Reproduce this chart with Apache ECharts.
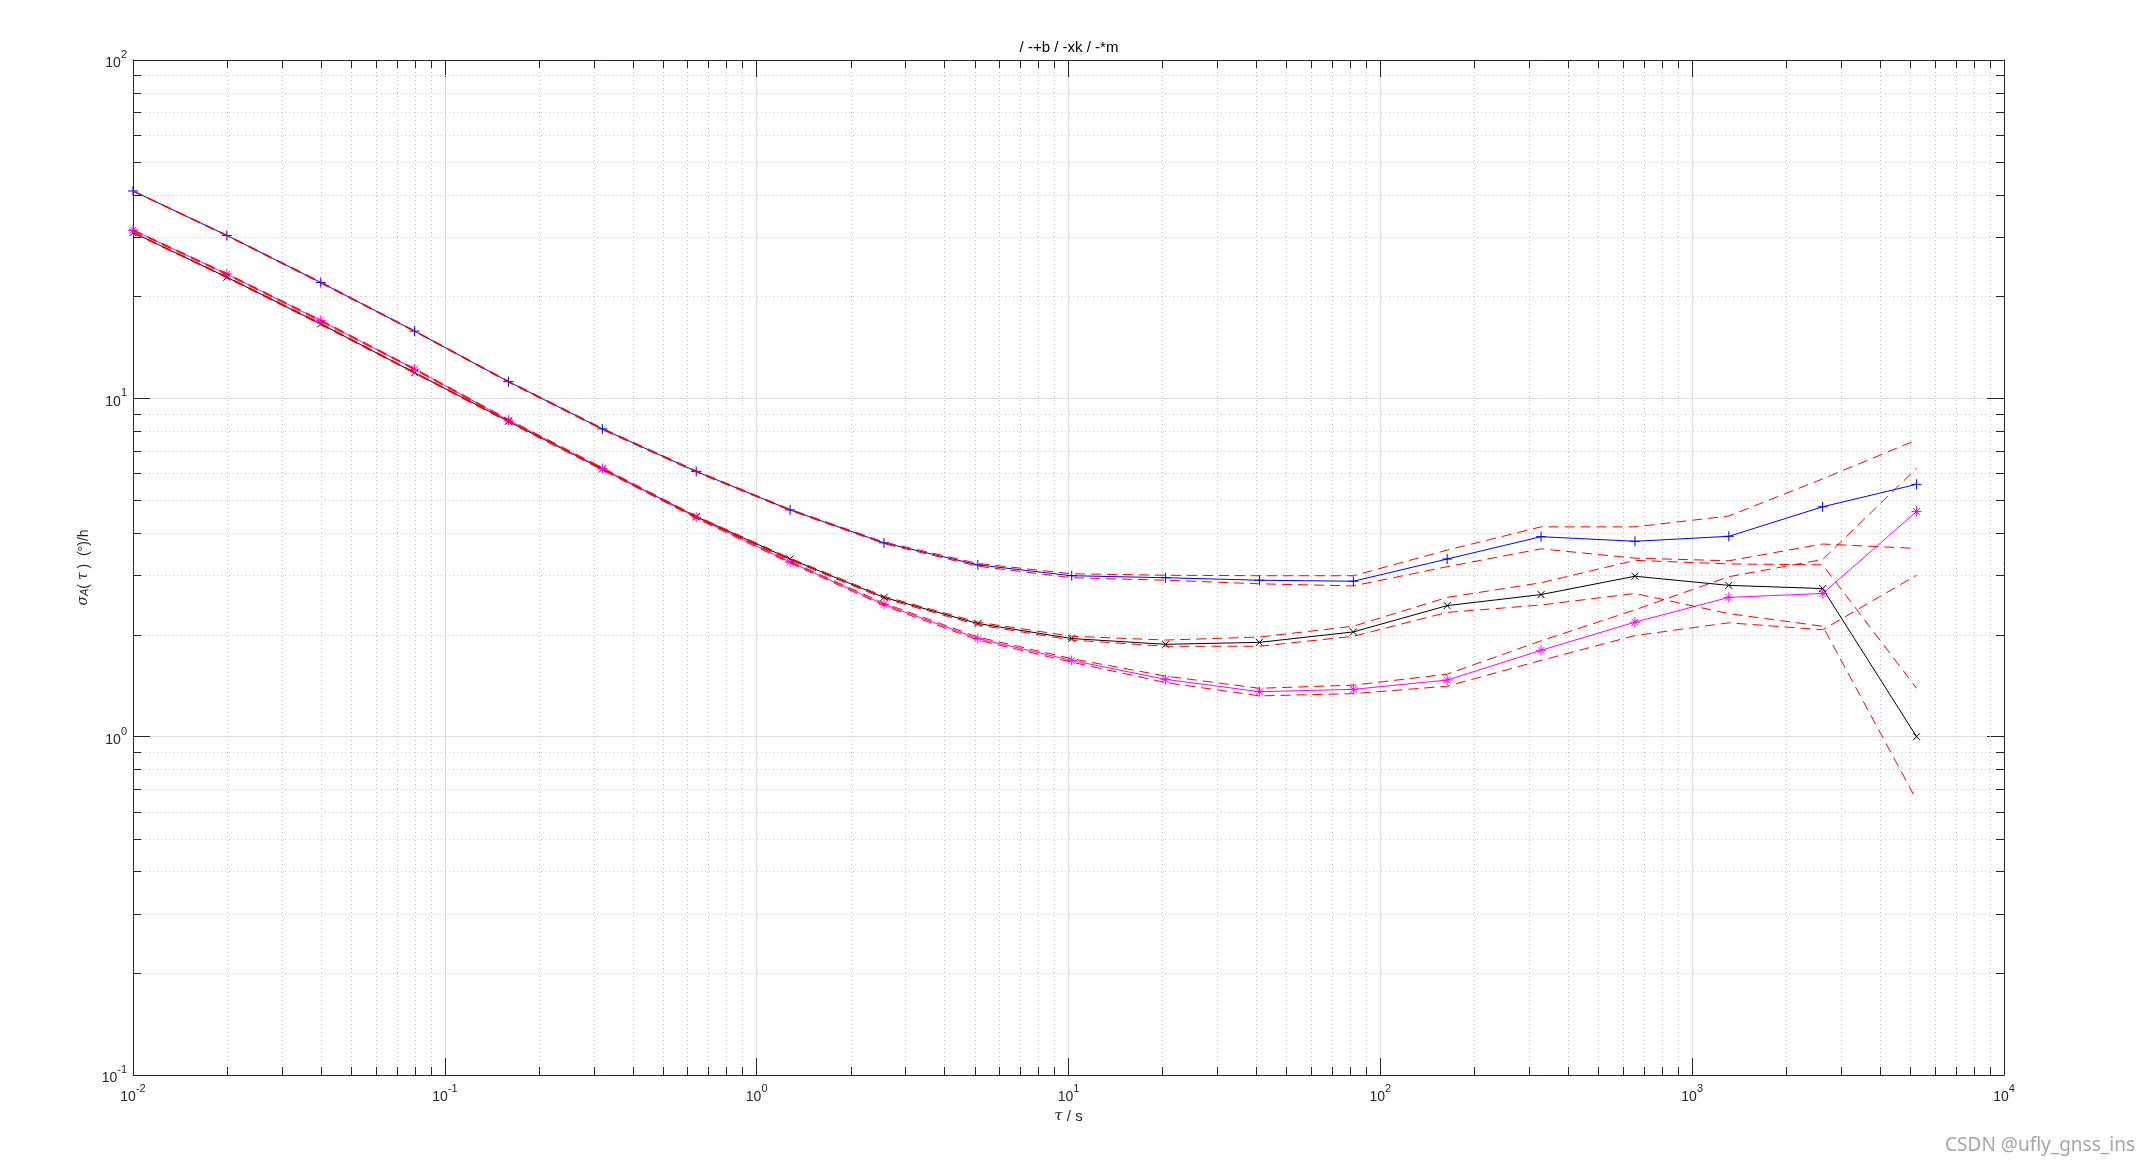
<!DOCTYPE html>
<html>
<head>
<meta charset="utf-8">
<script src="https://cdn.jsdelivr.net/npm/echarts@6/dist/echarts.min.js"></script>
<style>
html,body{margin:0;padding:0;background:#fff;}
#chart{width:2150px;height:1167px;}
</style>
</head>
<body>
<div id="chart"></div>
<script>
// ---- data ----
var tau = [0.01, 0.02, 0.04, 0.08, 0.16, 0.32, 0.64, 1.28, 2.56, 5.12, 10.24, 20.48, 40.96, 81.92, 163.84, 327.68, 655.36, 1310.72, 2621.44, 5242.88];

var blueVals    = [41.0, 30.3, 22.0, 15.8, 11.2, 8.12, 6.08, 4.68, 3.74, 3.22, 2.99, 2.95, 2.90, 2.88, 3.35, 3.90, 3.78, 3.91, 4.78, 5.57];
var blueUpper   = [41.1, 30.4, 22.1, 15.85, 11.25, 8.16, 6.11, 4.70, 3.76, 3.25, 3.03, 3.00, 2.99, 2.99, 3.56, 4.17, 4.17, 4.49, 5.78, 7.53];
var blueLower   = [40.9, 30.2, 21.9, 15.75, 11.15, 8.08, 6.05, 4.66, 3.72, 3.19, 2.95, 2.90, 2.83, 2.79, 3.18, 3.59, 3.37, 3.31, 3.71, 3.60];

var blackVals   = [30.9, 22.8, 16.6, 11.9, 8.55, 6.18, 4.47, 3.35, 2.58, 2.16, 1.95, 1.875, 1.90, 2.04, 2.44, 2.63, 2.98, 2.80, 2.74, 1.0];
var blackUpper  = [31.0, 22.9, 16.7, 11.95, 8.58, 6.21, 4.49, 3.37, 2.60, 2.18, 1.98, 1.93, 1.97, 2.12, 2.58, 2.85, 3.32, 3.24, 3.22, 1.39];
var blackLower  = [30.8, 22.7, 16.5, 11.85, 8.50, 6.14, 4.44, 3.33, 2.56, 2.14, 1.93, 1.85, 1.85, 1.98, 2.33, 2.45, 2.65, 2.31, 2.12, 0.65];

var magentaVals  = [31.4, 23.3, 16.96, 12.2, 8.62, 6.20, 4.45, 3.28, 2.46, 1.95, 1.68, 1.477, 1.358, 1.38, 1.47, 1.80, 2.18, 2.58, 2.65, 4.63];
var magentaUpper = [31.5, 23.4, 17.05, 12.25, 8.66, 6.24, 4.48, 3.30, 2.48, 1.97, 1.70, 1.51, 1.39, 1.42, 1.53, 1.92, 2.37, 2.97, 3.34, 6.21];
var magentaLower = [31.3, 23.2, 16.9, 12.15, 8.58, 6.17, 4.42, 3.26, 2.44, 1.93, 1.66, 1.445, 1.32, 1.34, 1.41, 1.68, 1.99, 2.17, 2.07, 3.00];

var titleText = '/ -+b / -xk / -*m';
var xDecades = [-2, -1, 0, 1, 2, 3];
var yDecades = [-1, 0, 1];

// ---- helpers ----
var FONT = 'Liberation Sans, Arial, sans-serif';
var AXC = '#262626';
function pairs(ys){ return tau.map(function(t,i){ return [t, ys[i]]; }); }
function supLabel(v){ var e = Math.round(Math.log10(v)); return '{b|10}{s|' + e + '}'; }
var labelRich = {
  b: {fontSize: 14, lineHeight: 21, color: AXC, fontFamily: FONT, verticalAlign: 'bottom'},
  s: {fontSize: 11, lineHeight: 12, color: AXC, fontFamily: FONT, verticalAlign: 'top'}
};

// minor tick / minor grid values (2..9 within every decade)
var minorItems = [];
xDecades.forEach(function(d){ for (var k = 2; k <= 9; k++) minorItems.push([k*Math.pow(10,d), 1, 0]); });
yDecades.forEach(function(d){ for (var k = 2; k <= 9; k++) minorItems.push([1, k*Math.pow(10,d), 1]); });

var PLUS = 'path://M5,0L5,10M0,5L10,5';
var CROSS = 'path://M0,0L10,10M0,10L10,0';
var STAR = 'path://M5,0L5,10M0,5L10,5M1.6,1.6L8.4,8.4M1.6,8.4L8.4,1.6';

function mainSeries(name, ys, color, symbol, size){
  return {
    name: name, type: 'line', data: pairs(ys), xAxisIndex: 0, yAxisIndex: 0,
    symbol: symbol, symbolSize: size, showAllSymbol: true, z: 3,
    lineStyle: {color: color, width: 1},
    itemStyle: {color: color, borderColor: color, borderWidth: 1},
    emphasis: {disabled: true}, silent: true
  };
}
function boundSeries(ys){
  return {
    type: 'line', data: pairs(ys), xAxisIndex: 0, yAxisIndex: 0,
    symbol: 'none', z: 4,
    lineStyle: {color: '#ff0000', width: 1, type: [10, 6]},
    emphasis: {disabled: true}, silent: true
  };
}

var chart = echarts.init(document.getElementById('chart'), null, {renderer: 'canvas'});
var gridCfg = {left: 133, right: 146, top: 60, bottom: 92};

var option = {
  animation: false,
  backgroundColor: '#ffffff',
  textStyle: {fontFamily: FONT},
  grid: gridCfg,
  xAxis: [{
    type: 'log', logBase: 10, min: 0.01, max: 10000, splitNumber: 6, position: 'bottom',
    axisLine: {show: true, onZero: false, lineStyle: {color: AXC, width: 1}},
    axisTick: {show: true, inside: true, length: 17, lineStyle: {color: AXC, width: 1}},
    axisLabel: {show: true, margin: 8, formatter: supLabel, rich: labelRich, showMinLabel: true, showMaxLabel: true},
    splitLine: {show: true, lineStyle: {color: '#dedede', width: 1}},
    name: '{i|τ}{n| / s}', nameLocation: 'middle', nameGap: 32,
    nameTextStyle: {rich: {i: {fontSize: 15, fontStyle: 'italic', fontFamily: 'DejaVu Serif, serif', color: AXC}, n: {fontSize: 15, color: AXC, fontFamily: FONT}}}
  }, {
    type: 'log', logBase: 10, min: 0.01, max: 10000, splitNumber: 6, position: 'top',
    axisLine: {show: true, onZero: false, lineStyle: {color: AXC, width: 1}},
    axisTick: {show: true, inside: true, length: 17, lineStyle: {color: AXC, width: 1}},
    axisLabel: {show: false}, splitLine: {show: false}
  }],
  yAxis: [{
    type: 'log', logBase: 10, min: 0.1, max: 100, splitNumber: 3, position: 'left',
    axisLine: {show: true, onZero: false, lineStyle: {color: AXC, width: 1}},
    axisTick: {show: true, inside: true, length: 17, lineStyle: {color: AXC, width: 1}},
    axisLabel: {show: true, margin: 6, formatter: supLabel, rich: labelRich, showMinLabel: true, showMaxLabel: true},
    splitLine: {show: true, lineStyle: {color: '#dedede', width: 1}},
    name: '{i|σ}{sub|A}{n|( }{i|τ}{n| )  (°)/h}', nameLocation: 'middle', nameGap: 40, nameRotate: 90,
    nameTextStyle: {rich: {
      i: {fontSize: 14, fontStyle: 'italic', fontFamily: 'DejaVu Serif, serif', color: AXC},
      sub: {fontSize: 11, fontStyle: 'italic', color: AXC, fontFamily: FONT, verticalAlign: 'bottom', lineHeight: 10, padding: [6, 0, 0, 0]},
      n: {fontSize: 14, color: AXC, fontFamily: FONT}
    }}
  }, {
    type: 'log', logBase: 10, min: 0.1, max: 100, splitNumber: 3, position: 'right',
    axisLine: {show: true, onZero: false, lineStyle: {color: AXC, width: 1}},
    axisTick: {show: true, inside: true, length: 17, lineStyle: {color: AXC, width: 1}},
    axisLabel: {show: false}, splitLine: {show: false}
  }],
  series: [
    {
      type: 'custom', xAxisIndex: 0, yAxisIndex: 0, z: 1, silent: true,
      data: minorItems,
      renderItem: function(params, api){
        var cs = params.coordSys;
        var kind = api.value(2);
        var ch = [];
        var gridStyle = {stroke: '#c4c4c4', lineWidth: 1, lineDash: [1, 3]};
        var tickStyle = {stroke: AXC, lineWidth: 1};
        if (kind === 0) {
          var px = Math.round(api.coord([api.value(0), 1])[0]) + 0.5;
          var yb = cs.y + cs.height, yt = cs.y;
          ch.push({type: 'line', shape: {x1: px, y1: yt, x2: px, y2: yb}, style: gridStyle});
          ch.push({type: 'line', shape: {x1: px, y1: yb, x2: px, y2: yb - 8}, style: tickStyle});
          ch.push({type: 'line', shape: {x1: px, y1: yt, x2: px, y2: yt + 8}, style: tickStyle});
        } else {
          var py = Math.round(api.coord([1, api.value(1)])[1]) + 0.5;
          var xl = cs.x, xr = cs.x + cs.width;
          ch.push({type: 'line', shape: {x1: xl, y1: py, x2: xr, y2: py}, style: gridStyle});
          ch.push({type: 'line', shape: {x1: xl, y1: py, x2: xl + 8, y2: py}, style: tickStyle});
          ch.push({type: 'line', shape: {x1: xr, y1: py, x2: xr - 8, y2: py}, style: tickStyle});
        }
        return {type: 'group', children: ch};
      }
    },
    mainSeries('b', blueVals, '#0000ff', PLUS, 10),
    mainSeries('k', blackVals, '#000000', CROSS, 7),
    mainSeries('m', magentaVals, '#ff00ff', STAR, 10),
    boundSeries(blueUpper), boundSeries(blueLower),
    boundSeries(blackUpper), boundSeries(blackLower),
    boundSeries(magentaUpper), boundSeries(magentaLower)
  ],
  graphic: [
    {type: 'text', x: 1069, y: 48, style: {text: titleText, font: '15px ' + FONT, fill: '#000', textAlign: 'center', textVerticalAlign: 'middle'}},
    {type: 'text', right: 15, top: 1136, style: {text: 'CSDN @ufly_gnss_ins', font: '19px "Noto Sans", sans-serif', fill: '#a6a6a6'}}
  ]
};
chart.setOption(option);
</script>
</body>
</html>
